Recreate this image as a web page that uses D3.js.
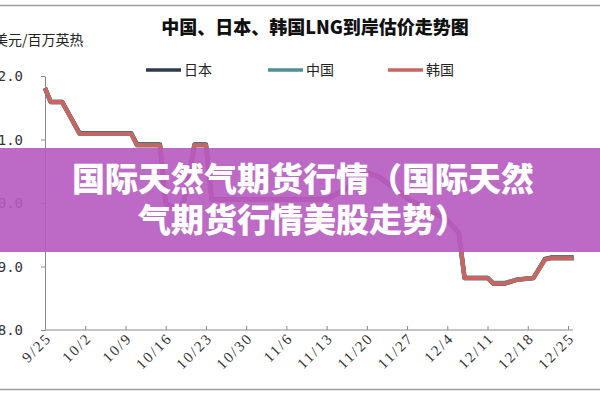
<!DOCTYPE html>
<html><head><meta charset="utf-8">
<script src="https://cdn.jsdelivr.net/npm/d3@7"></script>
<style>html,body{margin:0;padding:0;background:#fff;}svg{display:block;}</style>
</head><body>
<svg id="c" width="600" height="400"></svg>
<script>
const title = "中国、日本、韩国LNG到岸估价走势图";
const yAxisLabel = "美元/百万英热";
const bannerLines = ["国际天然气期货行情（国际天然", "气期货行情美股走势）"];
const seriesNames = ["日本", "中国", "韩国"];
const yTicks = [8, 9, 10, 11, 12];
const xTickLabels = ["9/25","10/2","10/9","10/16","10/23","10/30","11/6","11/13","11/20","11/27","12/4","12/11","12/18","12/25"];
const dates = ["9/25","9/26","9/28","10/1","10/10","10/11","10/15","10/16","10/17","10/19","10/20","10/21","10/23","10/24","10/26","11/13","11/17","11/20","11/22","11/27","12/4","12/6","12/7","12/11","12/12","12/14","12/16","12/19","12/21","12/22","12/26"];
const japan = [11.81,11.59,11.59,11.10,11.10,10.92,10.92,10.00,9.94,9.96,10.40,10.92,10.92,10.06,10.06,10.06,10.26,10.48,10.42,10.08,9.73,9.53,8.82,8.82,8.73,8.73,8.79,8.82,9.12,9.14,9.14];
const china = [11.81,11.59,11.59,11.09,11.09,10.91,10.91,9.99,9.93,9.95,10.39,10.91,10.91,10.05,10.05,10.05,10.25,10.47,10.41,10.08,9.73,9.53,8.82,8.82,8.74,8.74,8.79,8.82,9.11,9.13,9.13];
const korea = [11.81,11.59,11.59,11.09,11.09,10.91,10.91,9.99,9.93,9.95,10.39,10.91,10.91,10.05,10.05,10.05,10.25,10.47,10.41,10.08,9.73,9.53,8.82,8.82,8.73,8.73,8.79,8.82,9.11,9.13,9.13];
const colors = ["#2f3b4a", "#4f8f96", "#c86560"];

const parse = s => { const [m,d] = s.split("/").map(Number); return new Date(2017, m-1, d); };
const svg = d3.select("#c");

// frame lines
svg.append("line").attr("x1",0).attr("x2",600).attr("y1",5.5).attr("y2",5.5).attr("stroke","#9a9a9a").attr("stroke-width",1.5);
svg.append("line").attr("x1",0).attr("x2",600).attr("y1",389.5).attr("y2",389.5).attr("stroke","#9a9a9a").attr("stroke-width",1.5);

const x = d3.scaleTime().domain([parse("9/25"), parse("12/25")]).range([45, 568]);
const y = d3.scaleLinear().domain([8, 12]).range([330, 76]);

// title
svg.append("text").attr("x",315).attr("y",34).attr("text-anchor","middle")
  .attr("font-family","'Noto Sans CJK SC', sans-serif").attr("font-weight","900").attr("font-size",18).attr("fill","#111").text(title);
svg.append("text").attr("x",-6).attr("y",45)
  .attr("font-family","'Noto Sans CJK SC', sans-serif").attr("font-size",14).attr("fill","#222").text(yAxisLabel);

// legend
const legX = [146, 268, 388];
seriesNames.forEach((n,i) => {
  svg.append("line").attr("x1",legX[i]).attr("x2",legX[i]+35).attr("y1",70).attr("y2",70).attr("stroke",colors[i]).attr("stroke-width",3.5);
  svg.append("text").attr("x",legX[i]+38).attr("y",75).attr("font-family","'Noto Sans CJK SC', sans-serif").attr("font-size",14).attr("fill","#222").text(n);
});

// y axis
const yAx = svg.append("g").attr("transform","translate(45,0)")
  .call(d3.axisLeft(y).tickValues(yTicks).tickFormat(d3.format(".1f")).tickSize(4).tickSizeOuter(0));
yAx.select(".domain").attr("stroke","#8a8a8a");
yAx.selectAll(".tick line").attr("stroke","#8a8a8a");
yAx.selectAll("text").attr("x",23-45).attr("font-family","'DejaVu Sans Mono', monospace").attr("font-size",14).attr("fill","#333").attr("dy","0.35em");

// x axis
const xAx = svg.append("g").attr("transform","translate(0,330)")
  .call(d3.axisBottom(x).tickValues(xTickLabels.map(parse)).tickFormat((d,i)=>xTickLabels[i]).tickSize(-4).tickSizeOuter(0));
xAx.select(".domain").attr("d","M45,0H573").attr("stroke","#8a8a8a");
xAx.selectAll(".tick line").attr("stroke","#8a8a8a");
xAx.selectAll("text").attr("font-family","'Liberation Serif', serif").attr("font-size",15).attr("letter-spacing",2).attr("fill","#333")
  .attr("text-anchor","end").attr("dy",0).attr("y",0)
  .attr("transform","translate(7,9) rotate(-45)");

// lines
const line = d3.line().x((d,i)=>x(parse(dates[i]))).y(d=>y(d));
[japan, china, korea].forEach((s,i) => {
  svg.append("path").datum(s).attr("d",line).attr("fill","none")
    .attr("stroke",colors[i]).attr("stroke-width", i===2 ? 4 : 4.5).attr("stroke-linejoin","round");
});

// banner overlay
svg.append("rect").attr("x",0).attr("y",148).attr("width",600).attr("height",104).attr("fill","rgb(182,89,192)").attr("fill-opacity",0.9);
bannerLines.forEach((t,i) => {
  svg.append("text").attr("x",303).attr("y",191+i*41).attr("text-anchor","middle")
    .attr("font-family","'Noto Sans CJK SC', sans-serif").attr("font-weight","900").attr("font-size",33).attr("fill","#fff").text(t);
});
</script>
</body></html>
